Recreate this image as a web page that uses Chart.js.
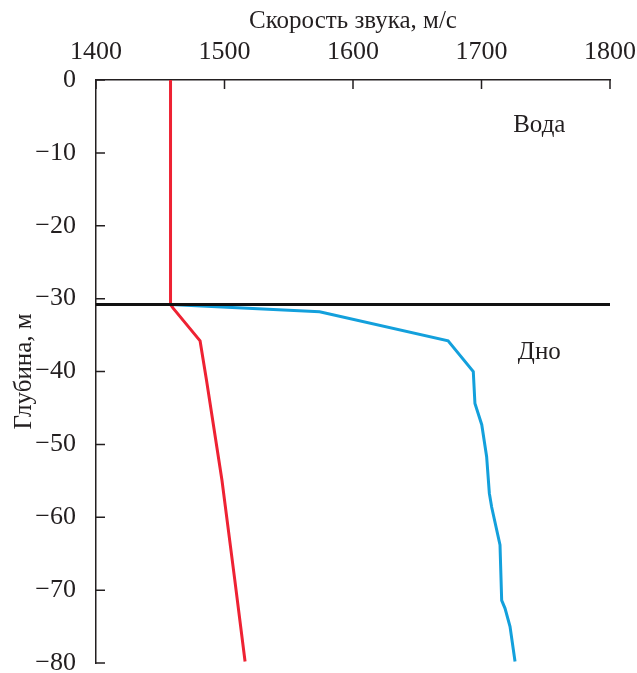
<!DOCTYPE html>
<html lang="ru">
  <head>
    <meta charset="UTF-8" />
    <title>Скорость звука</title>
    <style>
      html, body { margin: 0; padding: 0; background: #fff; }
      #wrap { width: 637px; height: 673px; }
    </style>
  </head>
  <body>
    <div id="wrap"><canvas id="myChart" width="637" height="673"></canvas></div>
    <script src="https://cdn.jsdelivr.net/npm/chart.js"></script>
    <script>
      // скорость звука (м/с) и глубина (м)
      const waterSpeed = [1458, 1458, 1460, 1481, 1486, 1498, 1508, 1516];
      const waterDepth = [0, -30.8, -31.3, -35.8, -41.2, -54.9, -68.6, -79.8];
      const bottomSpeed = [1458, 1574, 1674, 1693.6, 1694.9, 1700.2, 1704, 1706.1, 1707.9, 1714.4, 1715.7, 1718.3, 1722.2, 1726.1];
      const bottomDepth = [-30.8, -31.8, -35.8, -40, -44.4, -47.3, -51.7, -56.7, -58.6, -63.8, -71.4, -72.5, -75, -79.8];
      const seabedSpeed = [1400, 1800];
      const seabedDepth = [-30.8, -30.8];
      const xTicks = [1400, 1500, 1600, 1700, 1800];
      const yTicks = [0, -10, -20, -30, -40, -50, -60, -70, -80];
      const notes = [
        { text: "Вода", x: 1745, y: -6.2 },
        { text: "Дно", x: 1745, y: -37.4 },
      ];

      const FONT = "'Liberation Serif', 'Times New Roman', serif";
      const INK = "#231f20";

      function pts(xs, ys) {
        return xs.map((x, i) => ({ x: x, y: ys[i] }));
      }

      // short ticks drawn inward + text labels
      const extras = {
        id: "extras",
        afterDraw(chart) {
          const c = chart.ctx;
          const xs = chart.scales.x;
          const ys = chart.scales.y;
          const area = chart.chartArea;
          c.save();
          c.strokeStyle = INK;
          c.lineWidth = 1.5;
          c.beginPath();
          xTicks.forEach((v) => {
            const px = xs.getPixelForValue(v);
            c.moveTo(px, area.top);
            c.lineTo(px, area.top + 9);
          });
          yTicks.forEach((v) => {
            const py = ys.getPixelForValue(v);
            c.moveTo(area.left, py);
            c.lineTo(area.left + 9, py);
          });
          c.stroke();
          c.fillStyle = INK;
          c.font = "25px " + FONT;
          c.textAlign = "center";
          c.textBaseline = "middle";
          notes.forEach((n) => {
            c.fillText(n.text, xs.getPixelForValue(n.x), ys.getPixelForValue(n.y));
          });
          c.restore();
        },
      };

      const ctx = document.getElementById("myChart").getContext("2d");
      const myChart = new Chart(ctx, {
        type: "line",
        data: {
          datasets: [
            {
              label: "Дно (граница)",
              data: pts(seabedSpeed, seabedDepth),
              borderColor: "#111",
              borderWidth: 3,
              pointRadius: 0,
              order: 0,
            },
            {
              label: "Вода",
              data: pts(waterSpeed, waterDepth),
              borderColor: "#ee2233",
              borderWidth: 3,
              pointRadius: 0,
              order: 1,
            },
            {
              label: "Грунт",
              data: pts(bottomSpeed, bottomDepth),
              borderColor: "#13a0dc",
              borderWidth: 3,
              pointRadius: 0,
              order: 2,
            },
          ],
        },
        options: {
          responsive: false,
          animation: false,
          layout: { padding: { left: 0, right: 27, top: 0, bottom: 10 } },
          plugins: { legend: { display: false }, tooltip: { enabled: false } },
          scales: {
            x: {
              type: "linear",
              position: "top",
              min: 1400,
              max: 1800,
              afterBuildTicks: (s) => { s.ticks = xTicks.map((v) => ({ value: v })); },
              afterFit: (s) => { s.height = 80; s.paddingLeft = 0; s.paddingRight = 0; },
              grid: { display: false },
              border: { display: true, color: INK, width: 1.5 },
              ticks: {
                color: INK,
                padding: 4,
                maxRotation: 0,
                font: { family: FONT, size: 26 },
                callback: (v) => String(v),
              },
              title: {
                display: true,
                text: "Скорость звука, м/с",
                color: INK,
                padding: { top: 6, bottom: 0 },
                font: { family: FONT, size: 25 },
              },
            },
            y: {
              type: "linear",
              min: -80,
              max: 0,
              afterBuildTicks: (s) => { s.ticks = yTicks.map((v) => ({ value: v })); },
              afterFit: (s) => { s.width = 96; s.paddingTop = 0; s.paddingBottom = 0; },
              grid: { display: false },
              border: { display: true, color: INK, width: 1.5 },
              ticks: {
                color: INK,
                padding: 12,
                font: { family: FONT, size: 26 },
                callback: (v) => (v < 0 ? "\u2212" + Math.abs(v) : String(v)),
              },
              title: {
                display: true,
                text: "Глубина, м",
                color: INK,
                padding: { top: 9, bottom: 0 },
                font: { family: FONT, size: 25 },
              },
            },
          },
        },
        plugins: [extras],
      });
    </script>
  </body>
</html>
